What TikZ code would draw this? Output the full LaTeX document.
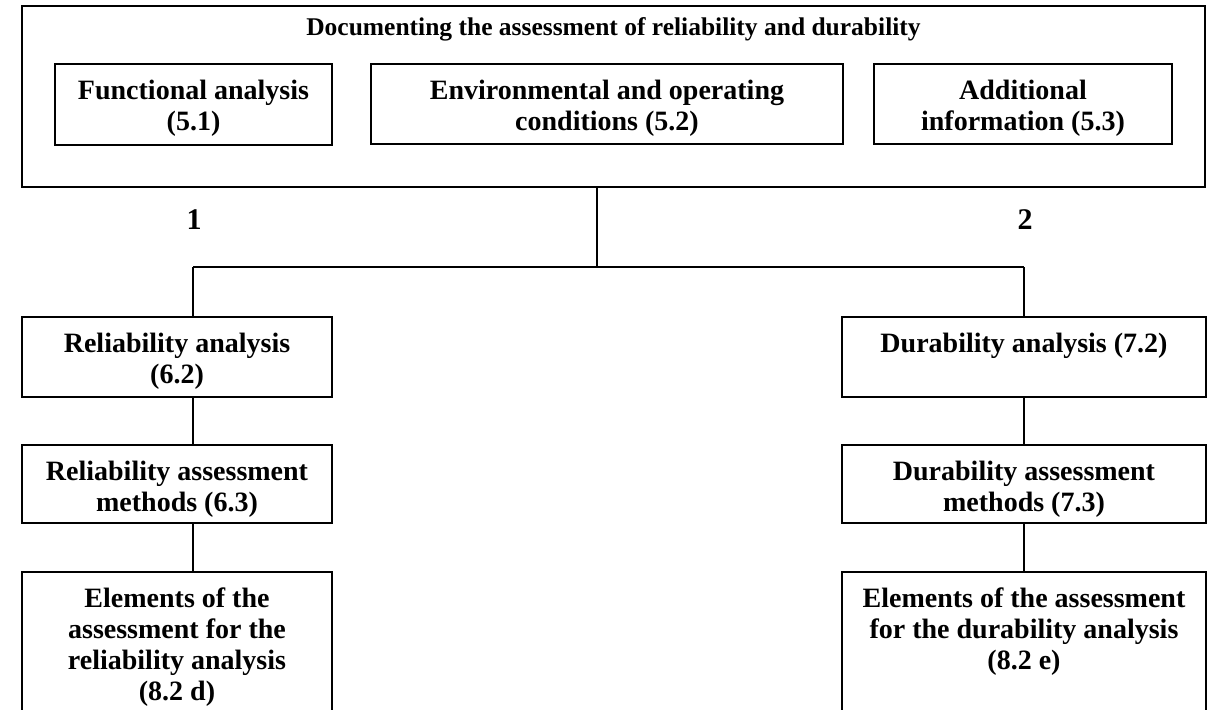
\documentclass[tikz,border=0pt]{standalone}
\usepackage{fontspec}
\setmainfont{Liberation Serif}
\begin{document}
\begin{tikzpicture}[x=1pt,y=-1pt,
  box/.style={draw, line width=2.7pt, inner sep=0pt, outer sep=0pt, anchor=north west},
  txt/.style={font=\bfseries\fontsize{28}{31}\selectfont, align=center, inner sep=0pt, anchor=north},
  conn/.style={line width=2.3pt}]
\clip (0,0) rectangle (1217,709);
\fill[white] (0,0) rectangle (1217,709);
% boxes
\node[box, minimum width=1183pt, minimum height=181pt] (outer) at (22,6) {};
\node[box, minimum width=277pt, minimum height=81pt] (func) at (55,64) {};
\node[box, minimum width=472pt, minimum height=80pt] (env) at (371,64) {};
\node[box, minimum width=298pt, minimum height=80pt] (add) at (874,64) {};
\node[box, minimum width=310pt, minimum height=80pt] (rel) at (22,317) {};
\node[box, minimum width=364pt, minimum height=80pt] (dur) at (842,317) {};
\node[box, minimum width=310pt, minimum height=78pt] (relm) at (22,445) {};
\node[box, minimum width=364pt, minimum height=78pt] (durm) at (842,445) {};
\node[box, minimum width=310pt, minimum height=170pt] (rele) at (22,572) {};
\node[box, minimum width=364pt, minimum height=170pt] (dure) at (842,572) {};
% texts
\node[font=\bfseries\fontsize{25.5}{30}\selectfont, inner sep=0pt, anchor=base] (title) at (613.5,36) {Documenting the assessment of reliability and durability};
\node[txt] (tfunc) at ([yshift=-16pt]func.north) {Functional analysis\\(5.1)};
\node[txt] (tenv) at ([yshift=-16pt]env.north) {Environmental and operating\\conditions (5.2)};
\node[txt] (tadd) at ([yshift=-16pt]add.north) {Additional\\information (5.3)};
\node[txt] (trel) at ([yshift=-16pt]rel.north) {Reliability analysis\\(6.2)};
\node[txt] (tdur) at ([yshift=-16pt]dur.north) {Durability analysis (7.2)};
\node[txt] (trelm) at ([yshift=-16pt]relm.north) {Reliability assessment\\methods (6.3)};
\node[txt] (tdurm) at ([yshift=-16pt]durm.north) {Durability assessment\\methods (7.3)};
\node[txt] (trele) at ([yshift=-16pt]rele.north) {Elements of the\\assessment for the\\reliability analysis\\(8.2 d)};
\node[txt] (tdure) at ([yshift=-16pt]dure.north) {Elements of the assessment\\for the durability analysis\\(8.2 e)};
\node[font=\bfseries\fontsize{30}{32}\selectfont, inner sep=0pt, anchor=base] (one) at (194,229) {1};
\node[font=\bfseries\fontsize{30}{32}\selectfont, inner sep=0pt, anchor=base] (two) at (1025,229) {2};
% connectors
\coordinate (jn) at (597,267);
\coordinate (lc) at (193,267);
\coordinate (rc) at (1024,267);
\draw[conn] (outer.south -| jn) -- (jn);
\draw[conn] (lc) -- (rc);
\draw[conn] (lc) -- (rel.north -| lc);
\draw[conn] (rc) -- (dur.north -| rc);
\draw[conn] (rel.south -| lc) -- (relm.north -| lc);
\draw[conn] (relm.south -| lc) -- (rele.north -| lc);
\draw[conn] (dur.south -| rc) -- (durm.north -| rc);
\draw[conn] (durm.south -| rc) -- (dure.north -| rc);
\end{tikzpicture}
\end{document}
